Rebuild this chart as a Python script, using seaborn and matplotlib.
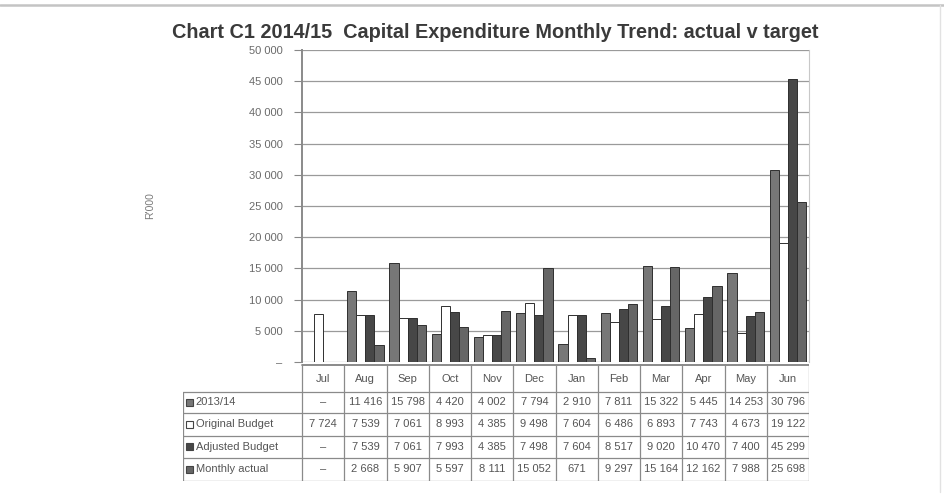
import numpy as np
import pandas as pd
import matplotlib
matplotlib.use("Agg")
import matplotlib.pyplot as plt
from matplotlib.patches import Rectangle
from matplotlib.lines import Line2D
import seaborn as sns

# ---- data (R'000) ----
months = ["Jul", "Aug", "Sep", "Oct", "Nov", "Dec", "Jan", "Feb", "Mar", "Apr", "May", "Jun"]
series_names = ["2013/14", "Original Budget", "Adjusted Budget", "Monthly actual"]
prior_year = [np.nan, 11416, 15798, 4420, 4002, 7794, 2910, 7811, 15322, 5445, 14253, 30796]
original_budget = [7724, 7539, 7061, 8993, 4385, 9498, 7604, 6486, 6893, 7743, 4673, 19122]
adjusted_budget = [np.nan, 7539, 7061, 7993, 4385, 7498, 7604, 8517, 9020, 10470, 7400, 45299]
monthly_actual = [np.nan, 2668, 5907, 5597, 8111, 15052, 671, 9297, 15164, 12162, 7988, 25698]
y_ticks = list(range(0, 50001, 5000))

colors = ["#777777", "#ffffff", "#474747", "#666666"]

values = [prior_year, original_budget, adjusted_budget, monthly_actual]
df = pd.DataFrame({
    "month": np.tile(months, len(series_names)),
    "series": np.repeat(series_names, len(months)),
    "value": np.concatenate([np.asarray(v, dtype=float) for v in values]),
})

sns.set_theme(style="white")
plt.rcParams["font.family"] = ["Liberation Sans", "DejaVu Sans"]

W, H = 944, 497
fig = plt.figure(figsize=(W / 100, H / 100), dpi=100)
fig.patch.set_facecolor("white")

def fx(px):
    return px / W

def fy(py):
    return 1 - py / H

# ---- bar axes ----
L, R, T, B = 302, 809, 50, 362
ax = fig.add_axes([fx(L), fy(B), fx(R - L), (B - T) / H])
sns.barplot(data=df, x="month", y="value", hue="series", order=months,
            hue_order=series_names, palette=colors, width=0.86, dodge=True,
            edgecolor="#2f2f2f", linewidth=0.7, legend=False, ax=ax, zorder=3)
ax.set_xlim(-0.5, 11.5)
ax.set_ylim(0, 50000)
ax.set_yticks(y_ticks)
ax.set_yticklabels(["–"] + [f"{v:,}".replace(",", " ") for v in y_ticks[1:]],
                   fontsize=8, color="#6a6a6a")
ax.set_xticks([])
ax.set_xlabel("")
ax.set_ylabel("R'000", fontsize=7.5, color="#7a7a7a", labelpad=67)
ax.yaxis.grid(True, color="#9a9a9a", linewidth=0.9, zorder=0)
ax.tick_params(axis="y", left=True, length=6, width=0.8, color="#888888", pad=8)
for side in ["top", "bottom"]:
    ax.spines[side].set_visible(False)
ax.spines["left"].set_color("#8a8a8a")
ax.spines["left"].set_linewidth(1.4)
ax.spines["right"].set_color("#c8c8c8")
ax.spines["right"].set_linewidth(0.8)

# ---- title ----
fig.text(fx(495), fy(32), "Chart C1 2014/15  Capital Expenditure Monthly Trend: actual v target",
         ha="center", va="center", fontsize=14.3, fontweight="bold", color="#3a3a3a")

# ---- data table under the bars ----
TL, TT, TB = 183, 364, 481
label_w = (L - TL) / ((R - L) / 12)
tab = fig.add_axes([fx(TL), fy(TB), fx(R - TL), (TB - TT) / H])
tab.set_xlim(-0.5 - label_w, 11.5)
tab.set_ylim(TB, TT)
tab.axis("off")

row_edges = [TT, 392, 413, 436, 458, 481]
line_kw = dict(color="#8a8a8a", linewidth=0.9)
x_left = -0.5 - label_w
# horizontal lines
tab.add_line(Line2D([-0.5, 11.5], [row_edges[0] + 1, row_edges[0] + 1], color="#777777", linewidth=1.2))
for y in row_edges[1:]:
    tab.add_line(Line2D([x_left, 11.5], [y, y], **line_kw))
# vertical lines
for i in range(13):
    x = i - 0.5
    tab.add_line(Line2D([x, x], [row_edges[0], row_edges[-1]], **line_kw))
tab.add_line(Line2D([x_left, x_left], [row_edges[1], row_edges[-1]], **line_kw))

# month header
for i, m in enumerate(months):
    tab.text(i, (row_edges[0] + row_edges[1]) / 2 + 1, m, ha="center", va="center",
             fontsize=8, color="#555555")

def fmt(v):
    if v is None or (isinstance(v, float) and np.isnan(v)):
        return "–"
    return f"{int(v):,}".replace(",", " ")

for r, (name, vals, col) in enumerate(zip(series_names, values, colors)):
    yc = (row_edges[r + 1] + row_edges[r + 2]) / 2
    sq = 0.17
    tab.add_patch(Rectangle((x_left + 0.06, yc - 3.5), sq, 7, facecolor=col,
                            edgecolor="#444444", linewidth=0.8))
    tab.text(x_left + 0.3, yc, name, ha="left", va="center", fontsize=8, color="#555555")
    for i, v in enumerate(vals):
        tab.text(i, yc, fmt(v), ha="center", va="center", fontsize=8, color="#555555")

# page border lines
fig.add_artist(Line2D([0, 1], [fy(5), fy(5)], color="#c4c4c4", linewidth=1.8))
fig.add_artist(Line2D([fx(940), fx(940)], [fy(5), fy(492)], color="#e2e2e2", linewidth=1.0))

fig.savefig("out.png", dpi=100, facecolor="white")
